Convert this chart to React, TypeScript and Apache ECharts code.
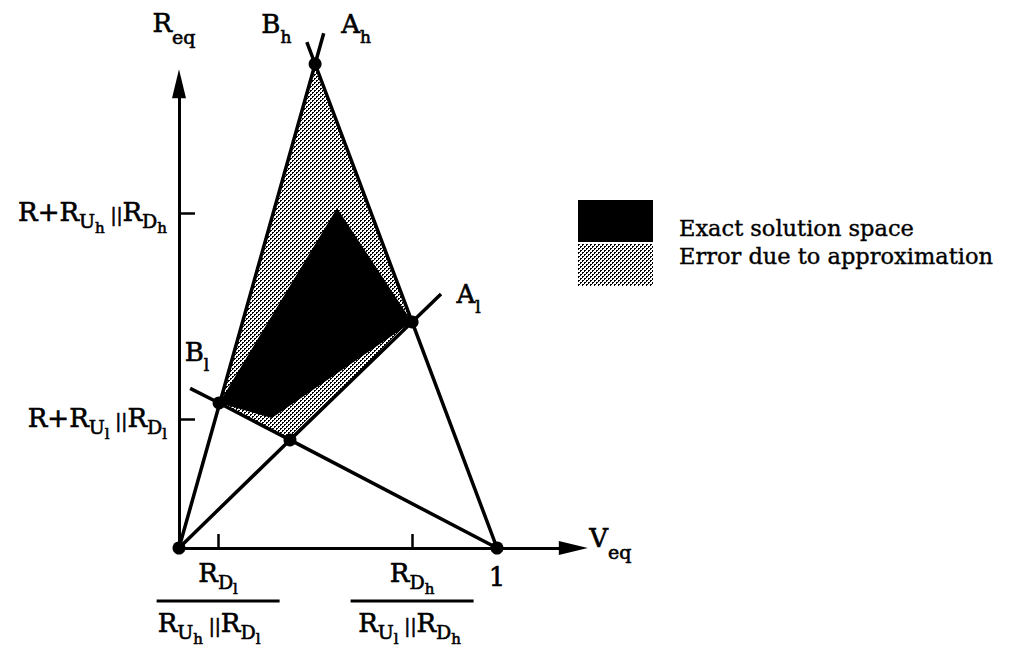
import React, { useEffect, useRef } from 'react';
import * as echarts from 'echarts';

const FONT = 'DejaVu Serif';

// Axis extents (x: V_eq, 1 at the right dot; y: R_eq in the same unit)
const X_MAX = 1.24;
const Y_MAX = 1.46;

// Tick positions and their labels
const yTickValues = [0.406, 1.054];
const yTickLabels = [
  '{m|R+R}{s1|U}{s2|l}{p| ||}{m|R}{s1|D}{s2|l}',
  '{m|R+R}{s1|U}{s2|h}{p| ||}{m|R}{s1|D}{s2|h}',
];
const xTickValues = [0.123, 0.733];
const xLabelValues = [0.123, 0.733, 1];
const xTickLabels = [
  '{n|R}{s1|D}{s2|l}\n{bar|}\n{m|R}{s1|U}{s2|h}{p| ||}{m|R}{s1|D}{s2a|l}',
  '{n|R}{s1|D}{s2|h}\n{bar|}\n{m|R}{s1|U}{s2|l}{p| ||}{m|R}{s1|D}{s2b|h}',
  '{one|1}',
];
const yAxisName = '{m|R}{e|eq}';
const xAxisName = '{m|V}{e|eq}';

// Boundary lines, each from its anchor through its crossings to its free end
const lineAh = [[0, 0], [0.428, 1.522], [0.455, 1.619]];
const lineBh = [[1, 0], [0.733, 0.711], [0.428, 1.522], [0.402, 1.591]];
const lineAl = [[0, 0], [0.349, 0.34], [0.733, 0.711], [0.824, 0.799]];
const lineBl = [[1, 0], [0.349, 0.34], [0.126, 0.456], [0.035, 0.502]];

// Crossing points marked with dots
const dots = [[0, 0], [1, 0], [0.428, 1.522], [0.126, 0.456], [0.733, 0.711], [0.349, 0.34]];

// Regions
const errorRegion = [[0.428, 1.522], [0.733, 0.711], [0.349, 0.34], [0.126, 0.456]];
const exactRegion = [[0.126, 0.456], [0.497, 1.069], [0.733, 0.711], [0.292, 0.409]];

// Line-end names
const endNames = ['{m|A}{lab|h}', '{m|B}{lab|h}', '{m|A}{lab|l}', '{m|B}{lab|l}'];
const endPoints = [lineAh[2], lineBh[3], lineAl[3], lineBl[3]];
const endOffsets = [[18, -22], [-45, -31], [16, -12], [-5, -49]];

const seriesNames = ['Exact solution space', 'Error due to approximation'];

const base = { fontFamily: FONT, color: '#000', textBorderColor: '#000', textBorderWidth: 0.6 };
const rich: any = {
  m: { ...base, fontSize: 26, lineHeight: 28, verticalAlign: 'top' },
  n: { ...base, fontSize: 26, lineHeight: 33, verticalAlign: 'top' },
  s1: { ...base, fontSize: 19, lineHeight: 1, verticalAlign: 'top', padding: [12.5, 0, 0, 0] },
  s2: { ...base, fontSize: 15, lineHeight: 1, verticalAlign: 'top', padding: [21.5, 0, 0, 0] },
  s2a: { ...base, fontSize: 15, lineHeight: 1, verticalAlign: 'top', padding: [21.5, 18, 0, 0] },
  s2b: { ...base, fontSize: 15, lineHeight: 1, verticalAlign: 'top', padding: [21.5, 5, 0, 0] },
  p: { ...base, fontSize: 18, lineHeight: 1, verticalAlign: 'top', padding: [7, 0, 0, 0] },
  bar: { width: 123, height: 3, backgroundColor: '#000', lineHeight: 17, verticalAlign: 'middle' },
  one: { ...base, fontSize: 26, lineHeight: 28, verticalAlign: 'top', padding: [4, 0, 0, 0] },
  lab: { ...base, fontSize: 17, lineHeight: 1, verticalAlign: 'top', padding: [17.5, 0, 0, 0] },
  e: { ...base, fontSize: 19, lineHeight: 1, verticalAlign: 'top', padding: [17.5, 0, 0, 0] },
};

const legendText = { ...base, fontSize: 22.5, textBorderWidth: 0.4, verticalAlign: 'top' };
const legendRich: any = {
  first: { ...legendText, padding: [13, 0, 0, 21] },
  second: { ...legendText, padding: [0, 0, 18, 21] },
};

function nearestIndex(values: number[], v: number) {
  let best = 0;
  values.forEach((x, i) => {
    if (Math.abs(x - v) < Math.abs(values[best] - v)) best = i;
  });
  return best;
}

function makeStipple() {
  const tile = document.createElement('canvas');
  tile.width = 4;
  tile.height = 4;
  const g = tile.getContext('2d')!;
  g.fillStyle = '#fff';
  g.fillRect(0, 0, 4, 4);
  g.fillStyle = '#000';
  g.fillRect(0, 0, 2, 1);
  g.fillRect(0, 1, 1, 1);
  g.fillRect(2, 2, 2, 1);
  g.fillRect(2, 3, 1, 1);
  return { image: tile, repeat: 'repeat' };
}

const PX = 318;
const AXIS_Y = 548;

export default function App() {
  const ref = useRef<HTMLDivElement>(null);

  useEffect(() => {
    if (!ref.current) return;
    const chart = echarts.init(ref.current, undefined, { renderer: 'svg' });
    const stipple: any = makeStipple();

    const polygonSeries = (name: string, pts: number[][], fill: any, z: number) => ({
      type: 'custom',
      name,
      data: pts,
      clip: false,
      silent: true,
      z,
      itemStyle: { color: fill, opacity: 1 },
      renderItem: (params: any, api: any) => {
        if (params.dataIndex !== 0) return null;
        return {
          type: 'polygon',
          shape: { points: pts.map((p) => api.coord(p)) },
          style: { fill, stroke: 'none' },
        };
      },
    });

    const lineSeries = (pts: number[][]) => ({
      type: 'line',
      data: pts,
      showSymbol: false,
      symbol: 'none',
      clip: false,
      silent: true,
      z: 4,
      lineStyle: { color: '#000', width: 3.5 },
    });

    const axisLine = {
      show: true,
      onZero: false,
      lineStyle: { color: '#000', width: 3 },
      symbol: ['none', 'triangle'],
      symbolSize: [14, 29],
    };

    chart.setOption({
      animation: false,
      backgroundColor: '#fff',
      textStyle: { fontFamily: FONT },
      grid: {
        left: 179,
        top: AXIS_Y - Y_MAX * PX,
        width: X_MAX * PX,
        height: Y_MAX * PX,
        containLabel: false,
        outerBoundsMode: 'none',
      },
      legend: {
        left: 578,
        top: 200,
        padding: 0,
        orient: 'vertical',
        icon: 'rect',
        itemWidth: 75,
        itemHeight: 42,
        itemGap: 2,
        selectedMode: false,
        data: seriesNames,
        formatter: (name: string) =>
          name === seriesNames[0] ? `{first|${name}}` : `{second|${name}}`,
        textStyle: { fontFamily: FONT, fontSize: 22.5, color: '#000', rich: legendRich },
      },
      xAxis: {
        type: 'value',
        min: 0,
        max: X_MAX,
        splitLine: { show: false },
        axisLine,
        axisTick: {
          show: true,
          inside: true,
          length: 14,
          lineStyle: { color: '#000', width: 2.5 },
          customValues: xTickValues,
        },
        axisLabel: {
          customValues: xLabelValues,
          margin: 11.5,
          formatter: (v: number) => xTickLabels[nearestIndex(xLabelValues, v)],
          rich,
        },
        name: xAxisName,
        nameLocation: 'end',
        nameGap: 16,
        nameTextStyle: { rich, padding: [0, 0, 19, 0] },
      },
      yAxis: {
        type: 'value',
        min: 0,
        max: Y_MAX,
        splitLine: { show: false },
        axisLine,
        axisTick: {
          show: true,
          inside: true,
          length: 16,
          lineStyle: { color: '#000', width: 2.5 },
          customValues: yTickValues,
        },
        axisLabel: {
          customValues: yTickValues,
          margin: 12,
          formatter: (v: number) => yTickLabels[nearestIndex(yTickValues, v)],
          rich,
        },
        name: yAxisName,
        nameLocation: 'end',
        nameGap: 46,
        nameTextStyle: { rich, padding: [0, 10, 0, 0] },
      },
      series: [
        polygonSeries(seriesNames[1], errorRegion, stipple, 1),
        polygonSeries(seriesNames[0], exactRegion, '#000', 2),
        lineSeries(lineAh),
        lineSeries(lineBh),
        lineSeries(lineAl),
        lineSeries(lineBl),
        {
          type: 'scatter',
          data: dots,
          symbol: 'circle',
          symbolSize: 13,
          clip: false,
          silent: true,
          z: 5,
          itemStyle: { color: '#000', opacity: 1 },
        },
        {
          type: 'scatter',
          data: endPoints.map((p, i) => ({
            value: p,
            label: { position: endOffsets[i], formatter: endNames[i] },
          })),
          symbol: 'circle',
          symbolSize: 1,
          clip: false,
          silent: true,
          z: 6,
          itemStyle: { color: 'rgba(0,0,0,0)', opacity: 1 },
          label: { show: true, rich, opacity: 1 },
        },
      ],
    });

    return () => chart.dispose();
  }, []);

  return (
    <div
      ref={ref}
      style={{ position: 'absolute', left: 0, top: 0, width: 1016, height: 651, background: '#fff' }}
    />
  );
}
